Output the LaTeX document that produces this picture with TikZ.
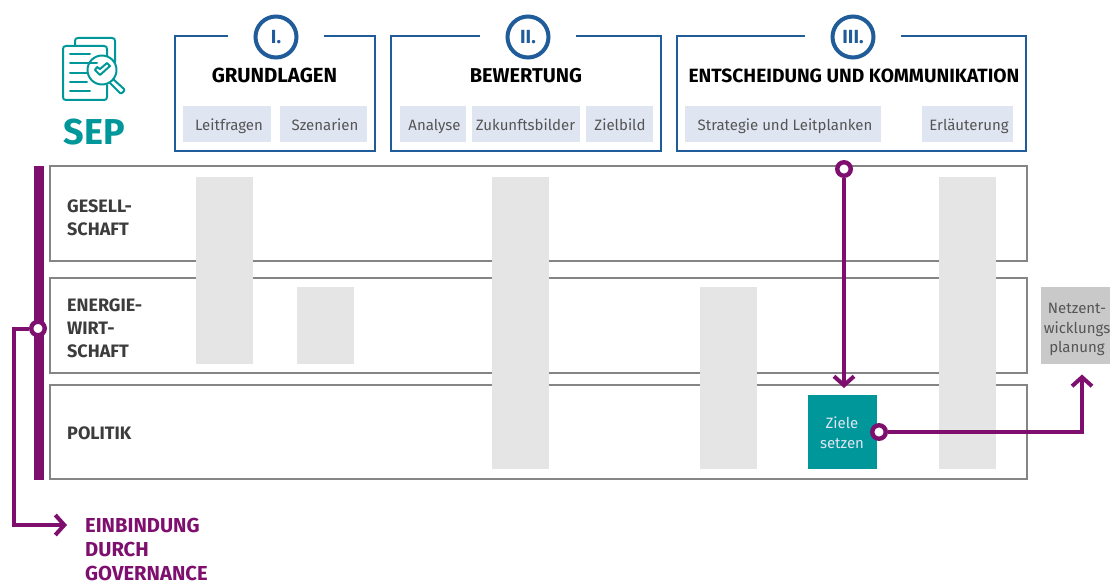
\documentclass[tikz,border=0pt]{standalone}
\usepackage{fontspec}
\setmainfont{Fira Sans}
\usetikzlibrary{arrows.meta}
\definecolor{blu}{HTML}{1F5C99}
\definecolor{pale}{HTML}{E0E5F2}
\definecolor{pur}{HTML}{7F0F6E}
\definecolor{teal1}{HTML}{00979A}
\definecolor{fr}{HTML}{858585}
\definecolor{bar}{HTML}{E5E5E5}
\definecolor{txt}{HTML}{555555}
\definecolor{dark}{HTML}{3C3C3C}
\tikzset{
 x=1pt,y=-1pt,
 panel/.style={draw=blu,line width=1.8pt,line join=miter},
 sub/.style={draw=none,inner sep=0pt,text=txt,anchor=base,font=\fontsize{15}{18}\selectfont},
 num/.style={circle,draw=blu,line width=4pt,fill=white,minimum size=41pt,inner sep=0pt,text=blu,font=\fontsize{19}{20}\selectfont\bfseries},
 head/.style={text=black,font=\bfseries,inner sep=0pt},
 rowbox/.style={draw=fr,line width=1.8pt,fill=white,inner sep=0pt,outer sep=0pt},
 rowlabel/.style={text=dark,font=\fontsize{18}{23}\selectfont\bfseries,align=left,anchor=west,inner sep=0pt},
 barbox/.style={fill=bar,draw=none,inner sep=0pt,outer sep=0pt},
 link/.style={draw=pur,line width=4pt,line join=miter},
 chev/.style={-{Straight Barb[length=9pt,width=20pt,line width=4pt]}},
 dot/.style={circle,draw=pur,line width=4.4pt,fill=white,minimum size=13.5pt,inner sep=0pt},
 icon/.style={draw=teal1,line width=2pt,line cap=round,line join=round},
}
\newcommand{\boxat}[6]{\node[#1,minimum width=#4pt-#3pt,minimum height=#6pt-#5pt,anchor=north west] (#2) at (#3,#5) {};}
\begin{document}
\begin{tikzpicture}
\useasboundingbox (0,0) rectangle (1110,583);
% rows
\boxat{rowbox}{rowa}{50}{1027}{166}{261}
\boxat{rowbox}{rowb}{50}{1027}{278}{373}
\boxat{rowbox}{rowc}{50}{1027}{385}{479}
\node[rowlabel] (la) at (67,217.5) {GESELL-\\SCHAFT};
\node[rowlabel] (lb) at (67,328) {ENERGIE-\\WIRT-\\SCHAFT};
\node[rowlabel] (lc) at (67,433) {POLITIK};
% bars
\boxat{barbox}{b1}{196}{253}{177}{363.5}
\boxat{barbox}{b2}{297}{354}{287}{363.5}
\boxat{barbox}{b3}{492}{549}{177}{468.5}
\boxat{barbox}{b4}{700}{757}{287}{468.5}
\boxat{barbox}{b5}{939}{996}{177}{468.5}
% panels
\draw[panel] (228,36) -- (175,36) -- (175,151) -- (375,151) -- (375,36) -- (324,36);
\draw[panel] (480,36) -- (391,36) -- (391,151) -- (661,151) -- (661,36) -- (576,36);
\draw[panel] (805,36) -- (677,36) -- (677,151) -- (1026,151) -- (1026,36) -- (901,36);
\node[num] (n1) at (276,37) {I.};
\node[num] (n2) at (528,37) {II.};
\node[num] (n3) at (853,37) {III.};
\node[head,font=\fontsize{20.4}{22}\selectfont\bfseries] (h1) at (274.5,75.5) {GRUNDLAGEN};
\node[head,font=\fontsize{20}{22}\selectfont\bfseries] (h2) at (526,75.5) {BEWERTUNG};
\node[head,font=\fontsize{19.2}{22}\selectfont\bfseries] (h3) at (854,75.5) {ENTSCHEIDUNG UND KOMMUNIKATION};
\newcommand{\subbox}[5]{\path[fill=pale] (#2,106) rectangle (#3,142); \node[sub] (#1) at (#4,130) {#5};}
\subbox{s1}{183}{271}{229}{Leitfragen}
\subbox{s2}{280}{367}{325}{Szenarien}
\subbox{s3}{400}{466}{434.5}{Analyse}
\subbox{s4}{472}{580}{525.5}{Zukunftsbilder}
\subbox{s5}{586}{653}{620}{Zielbild}
\subbox{s6}{685}{881}{785}{Strategie und Leitplanken}
\subbox{s7}{922}{1013}{969}{Erläuterung}
% icon
\draw[icon] (75,45) -- (75,41) .. controls (75,39) and (76,38) .. (78,38) -- (112,38) .. controls (114,38) and (115,39) .. (115,41) -- (115,62);
\draw[icon] (66,46) -- (104,46) .. controls (106,46) and (107,47) .. (107,49) -- (107,56);
\draw[icon] (107,85) -- (107,97) .. controls (107,99) and (106,100) .. (104,100) -- (66,100) .. controls (64,100) and (63,99) .. (63,97) -- (63,49) .. controls (63,47) and (64,46) .. (66,46);
\draw[icon] (70,54) -- (90,54) (70,63) -- (97,63) (70,73) -- (87,73) (70,82) -- (87,82) (70,91) -- (90,91);
\draw[icon] (102,70) circle (14.5pt);
\draw[icon] (95,70) -- (100,75) -- (110,66) -- (107,63) -- (100,69) -- (97,67) -- cycle;
\draw[icon] (110,83) -- (120,93) .. controls (122,94) and (125,91) .. (124,89) -- (113,79);
\node[text=teal1,font=\fontsize{36}{38}\selectfont\bfseries,inner sep=0pt] (sep) at (94.5,132) {SEP};
% Ziele + Netz
\node[fill=teal1,minimum width=69pt,minimum height=74pt,inner sep=0pt,outer sep=0pt,anchor=north west] (ziele) at (807.5,394.5) {};
\node[text=pale,inner sep=0pt,align=center,font=\fontsize{15}{20}\selectfont] (zielet) at (842,433) {Ziele\\setzen};
\node[fill=black!21,minimum width=69pt,minimum height=77pt,inner sep=0pt,outer sep=0pt,anchor=north west] (netz) at (1041,287) {};
\node[text=txt,inner sep=0pt,align=center,font=\fontsize{15}{19.5}\selectfont] (netzt) at (1077,329.5) {Netzent-\\wicklungs\\planung};
% governance
\path[fill=pur] (34,165.5) rectangle (44,480);
\coordinate (govend) at (67,525);
\coordinate (zielin) at (844,388);
\coordinate (netzin) at (1082,374.5);
\coordinate (corner) at (1082,432);
\coordinate (gova) at (14,328.5);
\coordinate (govb) at (14,525);
\node[dot] (d1) at (844,169) {};
\node[dot] (d2) at (879,432) {};
\node[dot] (d3) at (38,328.5) {};
\draw[link,chev] (d1) -- (zielin);
\draw[link,chev] (d2) -- (corner) -- (netzin);
\draw[link,chev] (d3) -- (gova) -- (govb) -- (govend);
\node[text=pur,font=\fontsize{20.2}{24.2}\selectfont\bfseries,align=left,anchor=north west,inner sep=0pt] (einb) at (85,518) {EINBINDUNG\\DURCH\\GOVERNANCE};
\end{tikzpicture}
\end{document}
